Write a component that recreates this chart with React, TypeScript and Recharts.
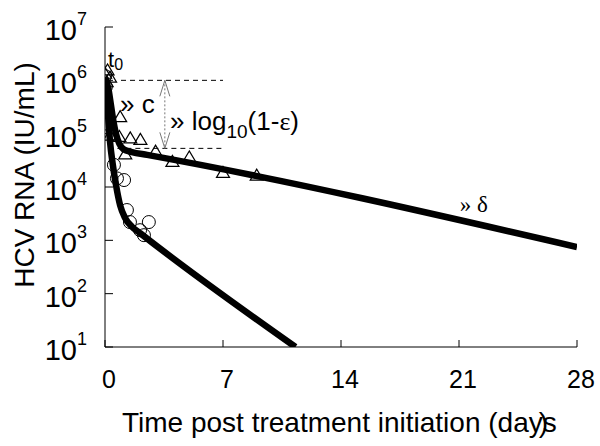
import {
  ComposedChart,
  Line,
  Scatter,
  XAxis,
  YAxis,
  ReferenceLine,
  ReferenceDot,
  Label,
} from "recharts";

const SANS = "'Liberation Sans', Arial, sans-serif";
const SERIF = "'Liberation Serif', 'Times New Roman', serif";

// x ticks (days) and y ticks (IU/mL, log scale)
const dayTicks = [0, 7, 14, 21, 28];
const rnaTicks = [1e1, 1e2, 1e3, 1e4, 1e5, 1e6, 1e7];

// model fit, slow responder (triangles)
const slowT = [0, 0.2, 0.35, 0.5, 0.65, 0.85, 1.1, 1.6, 2.5, 28];
const slowV = [1.1e6, 7e5, 3.5e5, 1.7e5, 1e5, 6.5e4, 5.1e4, 4.5e4, 4.0e4, 750];

// model fit, fast responder (circles)
const fastT = [0, 0.1, 0.2, 0.3, 0.45, 0.65, 0.9, 1.2, 1.6, 2.1, 11.3];
const fastV = [1.1e6, 5e5, 1.8e5, 7e4, 2.8e4, 1.1e4, 4.5e3, 2.6e3, 1.8e3, 1.35e3, 10];

// observed values
const triT = [0, 0.15, 0.3, 0.1, 0.9, 0.3, 0.85, 1.5, 2.1, 1.2, 3.0, 4.0, 5.0, 7.0, 9.0];
const triV = [1.3e6, 1.5e6, 1.1e6, 9e5, 2e5, 9e4, 8.5e4, 8e4, 7.5e4, 4e4, 4.5e4, 2.9e4, 3.5e4, 1.8e4, 1.6e4];

const circT = [0, 0.05, 0, 0.53, 0.71, 1.13, 1.3, 1.48, 2.6, 2.08, 2.31];
const circV = [1.2e6, 7.5e5, 1.55e5, 2.6e4, 1.45e4, 1.35e4, 3.7e3, 2.2e3, 2.2e3, 1.55e3, 1.25e3];

const zip = (ts: number[], vs: number[]) => ts.map((t, i) => ({ t, v: vs[i] }));

const slowFit = zip(slowT, slowV);
const fastFit = zip(fastT, fastV);
const triPts = zip(triT, triV);
const circPts = zip(circT, circV);

// annotation levels
const startLevel = 1e6;
const shoulderLevel = 5.3e4;

const YTick = ({ x, y, payload }: any) => {
  const exp = Math.round(Math.log10(payload.value));
  return (
    <g>
      <text x={x} y={y + 13} textAnchor="end" fontSize={29} fontFamily={SANS} fill="#000">
        10
      </text>
      <text x={x} y={y - 2} textAnchor="start" fontSize={18} fontFamily={SANS} fill="#000">
        {exp}
      </text>
    </g>
  );
};

const XTick = ({ x, y, payload }: any) => (
  <text x={x + 4} y={y} textAnchor="middle" fontSize={25} fontFamily={SANS} fill="#000">
    {payload.value}
  </text>
);

const XTitle = ({ viewBox }: any) => (
  <text x={viewBox.x + 17} y={viewBox.y + 85} fontSize={28} fontFamily={SANS} fill="#000">
    Time post treatment initiation (day<tspan>s</tspan>
    <tspan dx={-18}>)</tspan>
  </text>
);

const YTitle = () => (
  <text
    x={34}
    y={175}
    transform="rotate(-90 34 175)"
    textAnchor="middle"
    fontSize={28}
    fontFamily={SANS}
    fill="#000"
  >
    HCV RNA (IU/mL)
  </text>
);

const Circle = ({ cx, cy }: any) => (
  <circle cx={cx} cy={cy} r={6.5} fill="none" stroke="#000" strokeWidth={1} />
);

const Triangle = ({ cx, cy }: any) => (
  <polygon
    points={`${cx},${cy - 7} ${cx - 6.5},${cy + 4} ${cx + 6.5},${cy + 4}`}
    fill="none"
    stroke="#000"
    strokeWidth={1.2}
  />
);

const DoubleArrow = ({ x1, y1, x2, y2 }: any) => {
  const top = Math.min(y1, y2);
  const bot = Math.max(y1, y2);
  return (
    <g stroke="#777" strokeWidth={1} fill="none">
      <line x1={x1} y1={top} x2={x2} y2={bot} strokeDasharray="2 2" />
      <polyline points={`${x1 - 5},${top + 16} ${x1},${top} ${x1 + 5},${top + 16}`} />
      <polyline points={`${x1 - 5},${bot - 16} ${x1},${bot} ${x1 + 5},${bot - 16}`} />
    </g>
  );
};

export default function App() {
  return (
    <div style={{ width: 600, height: 446 }}>
      <style>{"body{margin:0}"}</style>
      <ComposedChart width={600} height={446} margin={{ top: 27, right: 23, left: 0, bottom: 0 }}>
        <XAxis
          type="number"
          dataKey="t"
          domain={[0, 28]}
          ticks={dayTicks}
          height={99}
          stroke="#000"
          tickSize={-7}
          tickMargin={48}
          tick={<XTick />}
          allowDataOverflow
        >
          <Label content={<XTitle />} />
        </XAxis>
        <YAxis
          type="number"
          dataKey="v"
          scale="log"
          domain={[10, 1e7]}
          ticks={rnaTicks}
          width={105}
          stroke="#000"
          tickSize={-8}
          tickMargin={36}
          tick={<YTick />}
          allowDataOverflow
        >
          <Label content={<YTitle />} />
        </YAxis>

        <ReferenceLine
          segment={[{ x: 0.95, y: startLevel }, { x: 7, y: startLevel }]}
          stroke="#000"
          strokeDasharray="5 4"
        />
        <ReferenceLine
          segment={[{ x: 0.2, y: shoulderLevel }, { x: 7, y: shoulderLevel }]}
          stroke="#000"
          strokeDasharray="5 4"
        />
        <ReferenceLine
          segment={[{ x: 3.55, y: startLevel }, { x: 3.55, y: shoulderLevel }]}
          shape={<DoubleArrow />}
        />

        <Line
          data={slowFit}
          dataKey="v"
          type="monotone"
          stroke="#000"
          strokeWidth={6.5}
          dot={false}
          isAnimationActive={false}
        />
        <Line
          data={fastFit}
          dataKey="v"
          type="monotone"
          stroke="#000"
          strokeWidth={6.5}
          dot={false}
          isAnimationActive={false}
        />
        <Scatter data={triPts} dataKey="v" shape={<Triangle />} isAnimationActive={false} />
        <Scatter data={circPts} dataKey="v" shape={<Circle />} isAnimationActive={false} />

        <ReferenceDot
          x={0.18}
          y={1.8e6}
          r={0}
          shape={(p: any) => (
            <text x={p.cx} y={p.cy} fontSize={22} fontFamily={SANS} fill="#000">
              t<tspan fontSize={16} dy={3}>0</tspan>
            </text>
          )}
        />
        <ReferenceDot
          x={0.89}
          y={2.4e5}
          r={0}
          shape={(p: any) => (
            <text x={p.cx} y={p.cy} fontSize={26} fontFamily={SANS} fill="#000">
              » c
            </text>
          )}
        />
        <ReferenceDot
          x={3.86}
          y={1.15e5}
          r={0}
          shape={(p: any) => (
            <text x={p.cx} y={p.cy} fontSize={26} fontFamily={SANS} fill="#000">
              » log<tspan fontSize={19} dy={8}>10</tspan>
              <tspan dy={-8}>(1-</tspan>
              <tspan fontFamily={SERIF}>ε</tspan>)
            </text>
          )}
        />
        <ReferenceDot
          x={21.05}
          y={3.4e3}
          r={0}
          shape={(p: any) => (
            <text x={p.cx} y={p.cy} fontSize={23} fontFamily={SERIF} fill="#000">
              » δ
            </text>
          )}
        />
      </ComposedChart>
    </div>
  );
}
